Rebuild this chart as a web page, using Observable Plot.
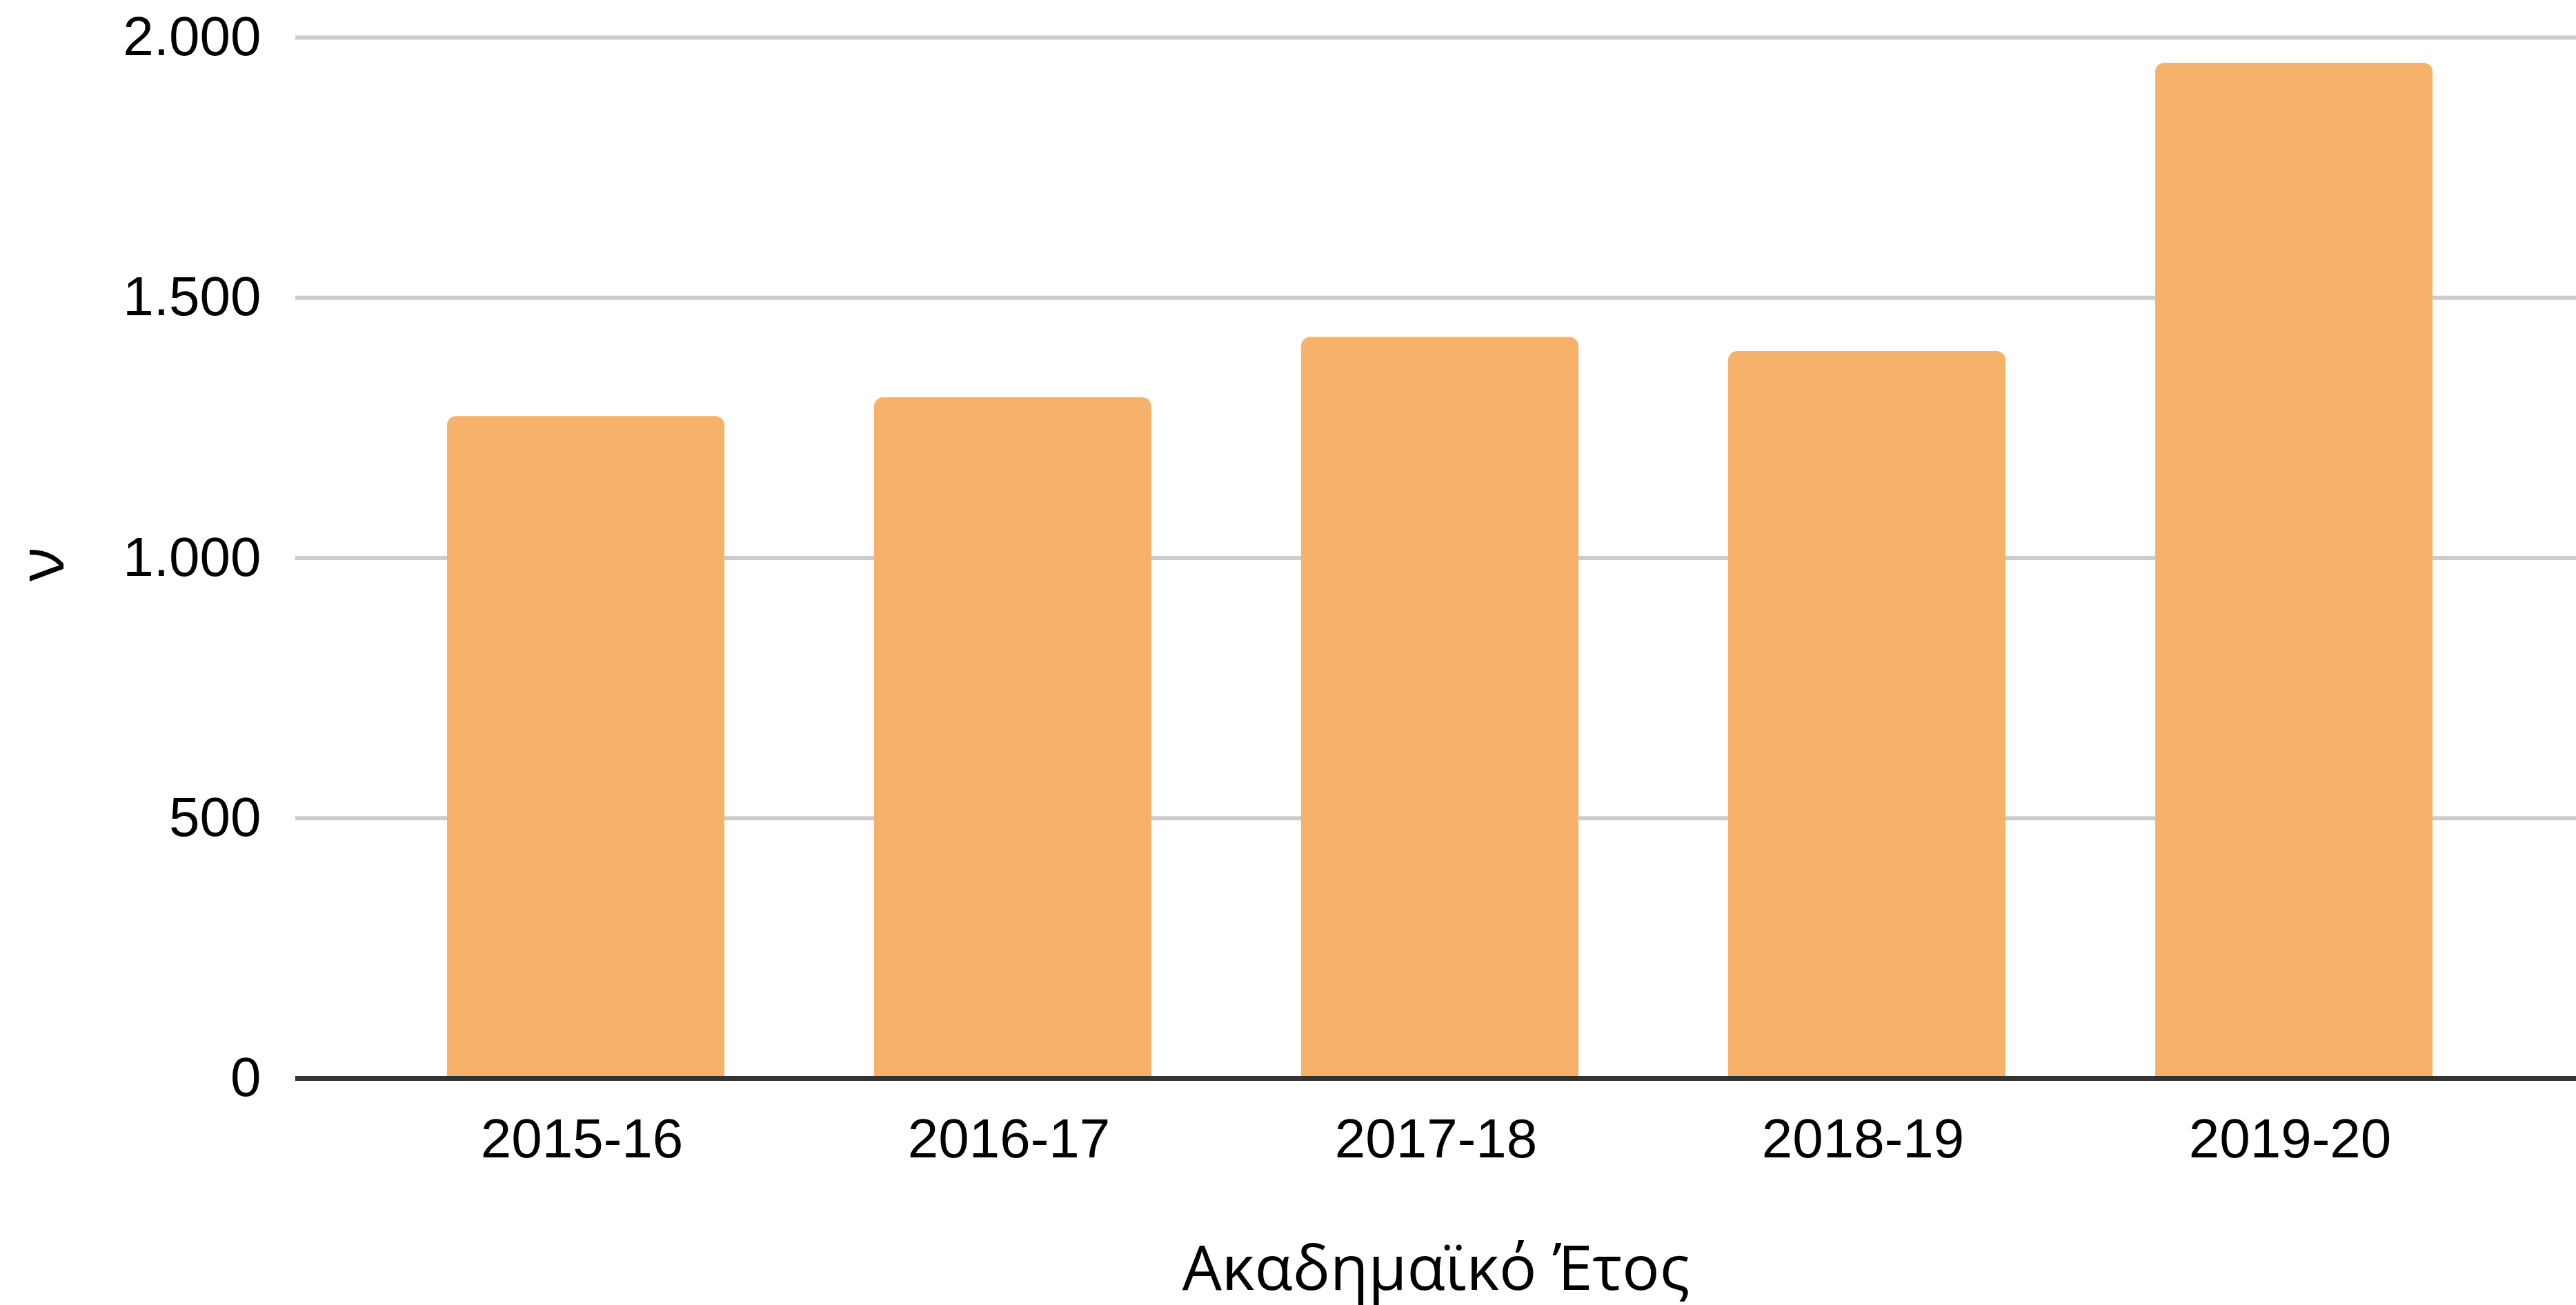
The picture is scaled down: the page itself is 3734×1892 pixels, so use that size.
<!DOCTYPE html>
<html>
<head>
<meta charset="utf-8">
<script src="https://cdn.jsdelivr.net/npm/d3@7"></script>
<script src="https://cdn.jsdelivr.net/npm/@observablehq/plot@0.6"></script>
<style>
  html, body { margin: 0; padding: 0; background: #ffffff; }
  #chart svg { display: block; }
</style>
</head>
<body>
<div id="chart"></div>
<script>
const years = ["2015-16", "2016-17", "2017-18", "2018-19", "2019-20"];
const counts = [1272, 1308, 1424, 1397, 1951];
const yTicks = [0, 500, 1000, 1500, 2000];
const gridTicks = [500, 1000, 1500, 2000];
const xTitle = "Ακαδημαϊκό Έτος";
const yTitle = "ν";

const data = years.map((year, i) => ({year, count: counts[i]}));
const fmt = d => d3.format(",")(d).replace(/,/g, ".");
const tickFont = "'Liberation Sans', Arial, sans-serif";
const titleFont = "'Open Sans', 'Noto Sans', sans-serif";

const chart = Plot.plot({
  width: 3734,
  height: 1892,
  marginLeft: 428,
  marginRight: 0,
  marginTop: 54,
  marginBottom: 329,
  style: {background: "#ffffff", color: "#000000", overflow: "visible"},
  x: {domain: years, paddingInner: 0.351, paddingOuter: 0.344, align: 0.514, label: null},
  y: {domain: [0, 2000], label: null},
  marks: [
    Plot.ruleY(gridTicks, {stroke: "#cccccc", strokeWidth: 6}),
    Plot.barY(data, {x: "year", y: "count", fill: "#f6b26b", ry1: 13}),
    Plot.ruleY([0], {stroke: "#333333", strokeWidth: 7}),
    Plot.axisY(yTicks, {
      tickFormat: fmt, tickSize: 0, tickPadding: 50, label: null,
      fontSize: 80, fontFamily: tickFont, fill: "#000000"
    }),
    Plot.axisX({
      tickSize: 0, tickPadding: 58, label: null, dx: -6,
      fontSize: 80, fontFamily: tickFont, fill: "#000000"
    }),
    Plot.text([xTitle], {
      frameAnchor: "bottom", lineAnchor: "bottom", dy: 306,
      fontSize: 90.5, fontFamily: titleFont, fill: "#000000"
    }),
    Plot.text([yTitle], {
      frameAnchor: "left", rotate: -90, dx: -366, dy: 34,
      fontSize: 92, fontFamily: titleFont, fill: "#000000"
    })
  ]
});
document.getElementById("chart").appendChild(chart);
</script>
</body>
</html>
